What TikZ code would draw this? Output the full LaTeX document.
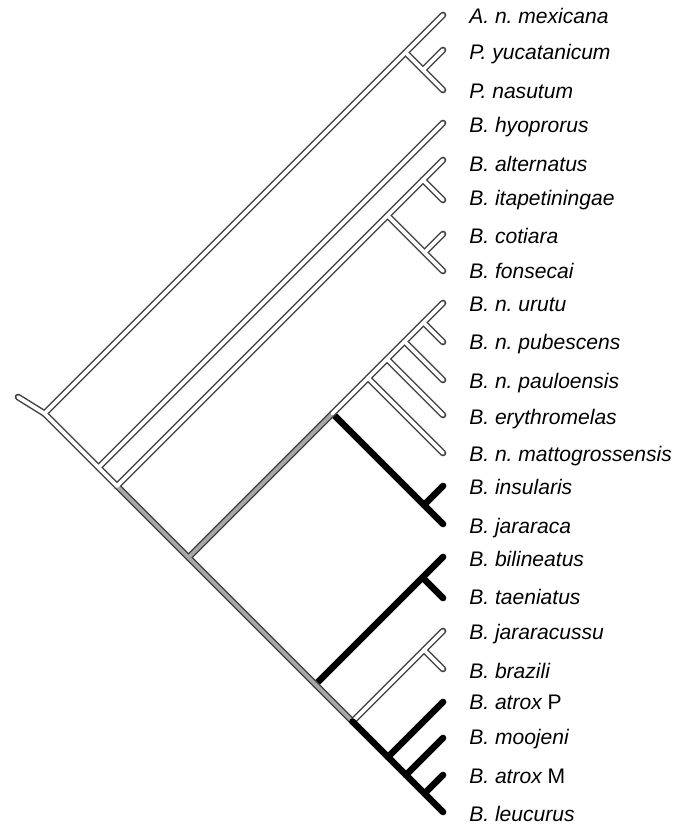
\documentclass[tikz,border=0pt]{standalone}
\usepackage{fontspec}
\setmainfont{Liberation Sans}
\frenchspacing
\begin{document}
\begin{tikzpicture}[x=0.75pt,y=-0.75pt,
  outl/.style={line width=5pt, draw=black!75, line cap=round},
  inw/.style={line width=2.8pt, draw=white, line cap=round},
  ing/.style={line width=2.8pt, draw=black!35, line cap=round},
  blk/.style={line width=5pt, draw=black, line cap=round},
  lab/.style={anchor=base west, inner sep=0pt, font=\fontsize{15.8}{18}\selectfont\itshape}]
\useasboundingbox (0,0) rectangle (682,828);
% leaf tips
\foreach \n/\y in {mex/15,yuc/50,nas/90,hyo/123,alt/160,ita/200,cot/234,fon/271,uru/303,pub/342,pau/380,ery/415,mat/453,ins/486,jar/524,bil/557,tae/598,jss/631,bra/669,atp/702,moo/738,atm/775,leu/812}
  \coordinate (t\n) at (443,\y);
% internal nodes
\coordinate (root) at (18,397);
\coordinate (N0) at (44.5,413.5);
\coordinate (Pmex) at (405.5,52.5);
\coordinate (Pyn) at (423,70);
\coordinate (N1) at (98.5,467.5);
\coordinate (N2) at (117,486);
\coordinate (A4) at (387.5,215.5);
\coordinate (Aai) at (423,180);
\coordinate (Acf) at (424.5,252.5);
\coordinate (N3) at (188.5,557.5);
\coordinate (N4) at (332.5,413.5);
\coordinate (U5) at (368,378);
\coordinate (U4) at (387,359);
\coordinate (U3) at (404.5,341.5);
\coordinate (U2) at (423.5,322.5);
\coordinate (IJ) at (424,505);
\coordinate (N5) at (315.5,684.5);
\coordinate (BT) at (422.5,577.5);
\coordinate (N6) at (352.5,721.5);
\coordinate (JB) at (424,650);
\coordinate (L4) at (388,757);
\coordinate (L3) at (406,775);
\coordinate (L2) at (424.5,793.5);
% black branches under the hollow ones
\foreach \a/\b in {N4/tjar,IJ/tins,N5/tbil,BT/ttae}
  \draw[blk] (\a) -- (\b);
% outlines of hollow and grey branches
\foreach \a/\b in {root/N0,N0/N2,N0/tmex,Pmex/tnas,Pyn/tyuc,N1/thyo,N2/talt,A4/tfon,Aai/tita,Acf/tcot,N4/turu,U5/tmat,U4/tery,U3/tpau,U2/tpub,N6/tjss,JB/tbra,N2/N6,N3/N4}
  \draw[outl] (\a) -- (\b);
% grey interiors
\foreach \a/\b in {N2/N6,N3/N4}
  \draw[ing] (\a) -- (\b);
% white interiors
\foreach \a/\b in {root/N0,N0/N2,N0/tmex,Pmex/tnas,Pyn/tyuc,N1/thyo,N2/talt,A4/tfon,Aai/tita,Acf/tcot,N4/turu,U5/tmat,U4/tery,U3/tpau,U2/tpub,N6/tjss,JB/tbra}
  \draw[inw] (\a) -- (\b);
% black comb on top
\foreach \a/\b in {N6/tleu,L4/tatp,L3/tmoo,L2/tatm}
  \draw[blk] (\a) -- (\b);
% labels
\node[lab] (lmex) at (469,23.5) {A. n. mexicana};
\node[lab] (lyuc) at (469,59.5) {P. yucatanicum};
\node[lab] (lnas) at (469,98.5) {P. nasutum};
\node[lab] (lhyo) at (469,132.5) {B. hyoprorus};
\node[lab] (lalt) at (469,171.5) {B. alternatus};
\node[lab] (lita) at (469,205.5) {B. itapetiningae};
\node[lab] (lcot) at (469,243.5) {B. cotiara};
\node[lab] (lfon) at (469,278.5) {B. fonsecai};
\node[lab] (luru) at (469,311.5) {B. n. urutu};
\node[lab] (lpub) at (469,349.5) {B. n. pubescens};
\node[lab] (lpau) at (469,388.5) {B. n. pauloensis};
\node[lab] (lery) at (469,424.5) {B. erythromelas};
\node[lab] (lmat) at (469,461.5) {B. n. mattogrossensis};
\node[lab] (lins) at (469,494.5) {B. insularis};
\node[lab] (ljar) at (469,533.5) {B. jararaca};
\node[lab] (lbil) at (469,566.5) {B. bilineatus};
\node[lab] (ltae) at (469,604.5) {B. taeniatus};
\node[lab] (ljss) at (469,639.5) {B. jararacussu};
\node[lab] (lbra) at (469,678.5) {B. brazili};
\node[lab] (latp) at (469,709.5) {B. atrox \upshape P};
\node[lab] (lmoo) at (469,744.5) {B. moojeni};
\node[lab] (latm) at (469,783.5) {B. atrox \upshape M};
\node[lab] (lleu) at (469,821.5) {B. leucurus};
\end{tikzpicture}
\end{document}
